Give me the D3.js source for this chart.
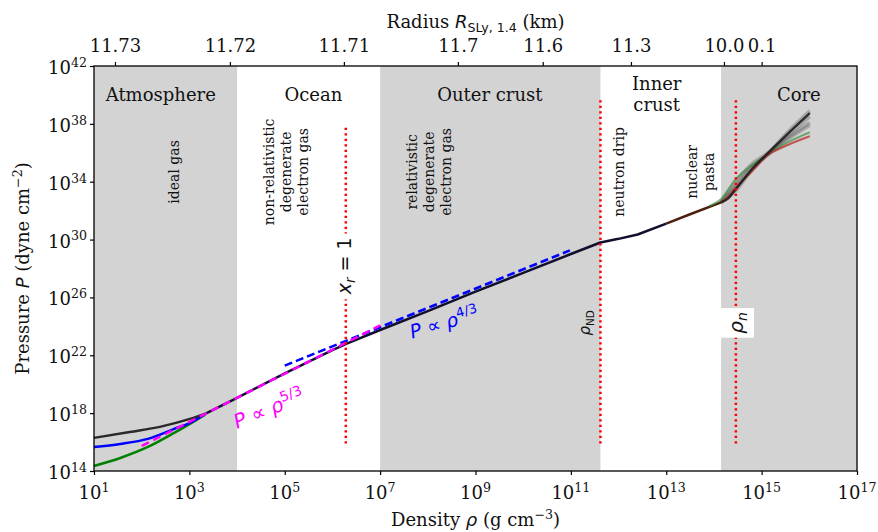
<!DOCTYPE html>
<html>
<head>
<meta charset="utf-8">
<script src="https://cdn.jsdelivr.net/npm/d3@7"></script>
<style>
  body { margin: 0; background: #fff; }
</style>
</head>
<body>
<div id="root"></div>
<script>
var width = 878;
var height = 532;
var padding = { left: 94, right: 21, top: 66, bottom: 61 };

// all values are log10 (density in g cm^-3, pressure in dyne cm^-2)
var densityTicks = [1, 3, 5, 7, 9, 11, 13, 15, 17];
var pressureTicks = [14, 18, 22, 26, 30, 34, 38, 42];
var radiusTickDensity = [1.44, 3.85, 6.24, 8.63, 10.41, 12.26, 14.21, 15.0];
var radiusTickLabels = ['11.73', '11.72', '11.71', '11.7', '11.6', '11.3', '10.0', '0.1'];

var regionEdges = [1, 4.0, 7.0, 11.62, 14.15, 17];
var regionShaded = [true, false, true, false, true];
var regionNames = [['Atmosphere'], ['Ocean'], ['Outer crust'], ['Inner', 'crust'], ['Core']];
var regionNameDensity = [2.4, 5.6, 9.3, 12.8, 15.78];

// low density EOS variants
var atmosBlack = [[1, 16.29], [1.75, 16.7], [2.38, 17.05], [3.01, 17.6], [3.33, 17.95]];
var atmosBlue = [[1, 15.66], [1.55, 15.87], [2.13, 16.22], [2.68, 16.91], [3.01, 17.33], [3.33, 17.95]];
var atmosGreen = [[1, 14.35], [1.55, 14.9], [2.13, 15.66], [2.68, 16.63], [3.01, 17.26], [3.33, 17.9]];
// shared crust EOS
var crustCurve = [[3.33, 17.95], [4, 19.06], [5, 20.75], [6, 22.35], [6.3, 22.8], [7, 23.75], [8, 25.05],
  [9, 26.4], [10, 27.7], [11, 29.0], [11.62, 29.8], [12.0, 30.05], [12.4, 30.35], [13.0, 31.1]];
var pastaCurve = [[13.0, 31.1], [13.5, 31.75], [14.15, 32.57]];
// core EOS variants
var coreGray = [
  [[14.15, 32.57], [14.44, 33.7], [14.82, 35.1], [15.11, 35.85], [15.45, 36.8], [16.01, 38.1]],
  [[14.15, 32.57], [14.44, 33.9], [14.82, 35.3], [15.11, 35.95], [15.45, 36.9], [16.01, 38.5]],
  [[14.15, 32.57], [14.44, 33.55], [14.82, 35.0], [15.11, 35.8], [15.45, 36.7], [16.01, 37.9]],
  [[14.15, 32.57], [14.44, 33.3], [14.82, 34.9], [15.11, 35.85], [15.45, 37.1], [16.01, 38.9]]
];
var coreGreen = [[13.9, 32.3], [14.15, 32.8], [14.44, 34.1], [14.82, 35.2], [15.11, 35.85], [15.45, 36.55], [16.01, 37.42]];
var coreRed = [[14.15, 32.57], [14.3, 32.95], [14.44, 33.5], [14.82, 34.8], [15.11, 35.8], [15.45, 36.4], [16.01, 37.15]];
var coreBlack = [[14.15, 32.57], [14.3, 32.85], [14.44, 33.4], [14.82, 34.95], [15.11, 35.9], [15.45, 37.0], [16.01, 38.74]];
// power laws
var nonRelLaw = [[2.0, 15.73], [7.0, 24.06]];
var relLaw = [[5.0, 21.28], [10.98, 29.25]];
// characteristic densities: [density, pressure from, pressure to]
var markerLines = [[6.28, 15.9, 37.8], [11.62, 15.9, 39.8], [14.46, 15.9, 39.8]];

var svg = d3.select('#root').append('svg')
  .attr('width', width).attr('height', height)
  .style('font-family', 'DejaVu Serif');

var x = d3.scaleLog().domain([1e1, 1e17]).range([padding.left, width - padding.right]);
var y = d3.scaleLog().domain([1e14, 1e42]).range([height - padding.bottom, padding.top]);
var px = function (v) { return x(Math.pow(10, v)); };
var py = function (v) { return y(Math.pow(10, v)); };

// text with super/subscripts
function rich(sel, parts, size) {
  var off = 0;
  parts.forEach(function (p) {
    var target = p.sup ? -0.4 * size : (p.sub ? 0.22 * size : 0);
    sel.append('tspan').text(p.t)
      .attr('dy', target - off)
      .attr('font-size', (p.sup || p.sub) ? size * 0.7 : size)
      .attr('font-family', p.m ? 'DejaVu Sans' : 'DejaVu Serif')
      .attr('font-style', p.i ? 'italic' : 'normal');
    off = target;
  });
}

// shaded regions
regionShaded.forEach(function (s, i) {
  if (!s) return;
  svg.append('rect')
    .attr('x', px(regionEdges[i]))
    .attr('y', padding.top)
    .attr('width', px(regionEdges[i + 1]) - px(regionEdges[i]))
    .attr('height', height - padding.top - padding.bottom)
    .attr('fill', '#d3d3d3');
});

// region titles
regionNames.forEach(function (lines, i) {
  var t = svg.append('text')
    .attr('text-anchor', 'middle')
    .attr('font-size', 18)
    .attr('fill', '#111');
  lines.forEach(function (l, j) {
    t.append('tspan').attr('x', px(regionNameDensity[i]))
      .attr('y', lines.length > 1 ? 90 + j * 21 : 101)
      .text(l);
  });
});

// rotated descriptions
var notes = [
  { d: 2.78, lines: ['ideal gas'] },
  { d: 4.77, lines: ['non-relativistic', 'degenerate', 'electron gas'] },
  { d: 7.77, lines: ['relativistic', 'degenerate', 'electron gas'] },
  { d: 12.11, lines: ['neutron drip'] },
  { d: 13.64, lines: ['nuclear', 'pasta'] }
];
notes.forEach(function (n) {
  var t = svg.append('text')
    .attr('transform', 'translate(' + px(n.d) + ',' + py(34.68) + ') rotate(-90)')
    .attr('text-anchor', 'middle')
    .attr('font-size', 14)
    .attr('fill', '#111');
  n.lines.forEach(function (l, j) {
    t.append('tspan').attr('x', 0).attr('y', j * 17).text(l);
  });
});

// curves
var smooth = d3.line()
  .x(function (d) { return px(d[0]); })
  .y(function (d) { return py(d[1]); })
  .curve(d3.curveMonotoneX);
var straight = d3.line()
  .x(function (d) { return px(d[0]); })
  .y(function (d) { return py(d[1]); });

function drawCurve(gen, data, color, w, op, dash) {
  svg.append('path')
    .attr('d', gen(data))
    .attr('fill', 'none')
    .attr('stroke', color)
    .attr('stroke-width', w)
    .attr('stroke-opacity', op)
    .attr('stroke-linejoin', 'round')
    .attr('stroke-dasharray', dash || null);
}

drawCurve(smooth, atmosGreen, '#008000', 2.5, 1);
drawCurve(smooth, atmosBlue, '#0000ff', 2.5, 1);
drawCurve(smooth, atmosBlack, '#2a2a2a', 2.5, 1);
drawCurve(straight, crustCurve, '#10102e', 2.5, 1);
drawCurve(straight, pastaCurve, '#4d1f0f', 2.5, 1);
coreGray.forEach(function (c) { drawCurve(smooth, c, '#444', 3.5, 0.3); });
drawCurve(smooth, coreGreen, '#2e8b2e', 2.2, 0.6);
drawCurve(smooth, coreRed, '#c02828', 2.2, 0.75);
drawCurve(smooth, coreBlack, '#1a1a1a', 2.5, 0.85);
drawCurve(straight, relLaw, '#0000ff', 2.5, 1, '8,4');
drawCurve(straight, nonRelLaw, '#ff00ff', 2.5, 1, '8,5');

// dotted marker lines
svg.selectAll('.marker')
  .data(markerLines).enter()
  .append('line')
  .attr('class', 'marker')
  .attr('x1', function (d) { return px(d[0]); })
  .attr('x2', function (d) { return px(d[0]); })
  .attr('y1', function (d) { return py(d[1]); })
  .attr('y2', function (d) { return py(d[2]); })
  .attr('stroke', '#ff0000')
  .attr('stroke-width', 2.5)
  .attr('stroke-dasharray', '2.2,3.3');

// labels on marker lines
function boxedLabel(d, p, parts, size, pad) {
  var g = svg.append('g').attr('transform', 'translate(' + px(d) + ',' + py(p) + ') rotate(-90)');
  var bg = g.append('rect').attr('fill', '#fff');
  var t = g.append('text').attr('text-anchor', 'middle').attr('fill', '#111');
  rich(t, parts, size);
  var bb = t.node().getBBox();
  t.attr('y', -(bb.y + bb.height / 2));
  bb = t.node().getBBox();
  if (pad !== null) {
    bg.attr('x', bb.x - pad).attr('y', bb.y - pad)
      .attr('width', bb.width + 2 * pad).attr('height', bb.height + 2 * pad);
  } else {
    bg.remove();
  }
}
boxedLabel(6.28, 28.18, [{ t: 'x', m: 1, i: 1 }, { t: 'r', m: 1, i: 1, sub: 1 }, { t: ' = 1', m: 1 }], 19, 4);
boxedLabel(11.32, 24.24, [{ t: 'ρ', m: 1, i: 1 }, { t: 'ND', m: 1, sub: 1 }], 15, null);
boxedLabel(14.48, 24.24, [{ t: 'ρ', m: 1, i: 1 }, { t: 'n', m: 1, i: 1, sub: 1 }], 20, 4);

// power law labels
var lawMag = svg.append('text')
  .attr('transform', 'translate(' + px(4.0) + ',' + py(16.9) + ') rotate(-22)')
  .attr('fill', '#ff00ff');
rich(lawMag, [{ t: 'P', m: 1, i: 1 }, { t: ' ∝ ', m: 1 }, { t: 'ρ', m: 1, i: 1 }, { t: '5/3', m: 1, sup: 1 }], 20);
var lawBlue = svg.append('text')
  .attr('transform', 'translate(' + px(7.67) + ',' + py(23.15) + ') rotate(-16)')
  .attr('fill', '#0000ff');
rich(lawBlue, [{ t: 'P', m: 1, i: 1 }, { t: ' ∝ ', m: 1 }, { t: 'ρ', m: 1, i: 1 }, { t: '4/3', m: 1, sup: 1 }], 19);

// axes
var bottom = height - padding.bottom;
var xAxis = d3.axisBottom(x).tickValues(densityTicks.map(function (v) { return Math.pow(10, v); }))
  .tickSize(4).tickFormat('');
var yAxis = d3.axisLeft(y).tickValues(pressureTicks.map(function (v) { return Math.pow(10, v); }))
  .tickSize(4).tickFormat('');
var topAxis = d3.axisTop(x).tickValues(radiusTickDensity.map(function (v) { return Math.pow(10, v); }))
  .tickSize(4).tickFormat(function (d, i) { return radiusTickLabels[i]; });

svg.append('g').attr('transform', 'translate(0,' + bottom + ')').call(xAxis);
svg.append('g').attr('transform', 'translate(' + padding.left + ',0)').call(yAxis);
var gt = svg.append('g').attr('transform', 'translate(0,' + padding.top + ')').call(topAxis);
gt.selectAll('text').attr('font-size', 18).attr('font-family', 'DejaVu Serif').attr('fill', '#111').attr('dy', 0).attr('y', -14);
svg.selectAll('.domain').remove();
svg.selectAll('.tick line').attr('stroke', '#000').attr('stroke-width', 1.2);

svg.append('rect')
  .attr('x', padding.left).attr('y', padding.top)
  .attr('width', width - padding.left - padding.right)
  .attr('height', height - padding.top - padding.bottom)
  .attr('fill', 'none').attr('stroke', '#000').attr('stroke-width', 1.3);

densityTicks.forEach(function (e) {
  var t = svg.append('text').attr('x', px(e)).attr('y', bottom + 28)
    .attr('text-anchor', 'middle').attr('fill', '#111');
  rich(t, [{ t: '10' }, { t: String(e), sup: 1 }], 18);
});
pressureTicks.forEach(function (e) {
  var t = svg.append('text').attr('x', padding.left - 7).attr('y', py(e) + 8)
    .attr('text-anchor', 'end').attr('fill', '#111');
  rich(t, [{ t: '10' }, { t: String(e), sup: 1 }], 18);
});

// axis titles
var xl = svg.append('text').attr('x', (padding.left + width - padding.right) / 2).attr('y', 526)
  .attr('text-anchor', 'middle').attr('fill', '#111');
rich(xl, [{ t: 'Density ' }, { t: 'ρ', m: 1, i: 1 }, { t: ' (g cm' }, { t: '−3', sup: 1 }, { t: ')' }], 18);
var yl = svg.append('text')
  .attr('transform', 'translate(29,' + (padding.top + bottom) / 2 + ') rotate(-90)')
  .attr('text-anchor', 'middle').attr('fill', '#111');
rich(yl, [{ t: 'Pressure ' }, { t: 'P', m: 1, i: 1 }, { t: ' (dyne cm' }, { t: '−2', sup: 1 }, { t: ')' }], 18);
var tl = svg.append('text').attr('x', (padding.left + width - padding.right) / 2).attr('y', 28)
  .attr('text-anchor', 'middle').attr('fill', '#111');
rich(tl, [{ t: 'Radius ' }, { t: 'R', m: 1, i: 1 }, { t: 'SLy, 1.4', m: 1, sub: 1 }, { t: ' (km)' }], 18);
</script>
</body>
</html>
